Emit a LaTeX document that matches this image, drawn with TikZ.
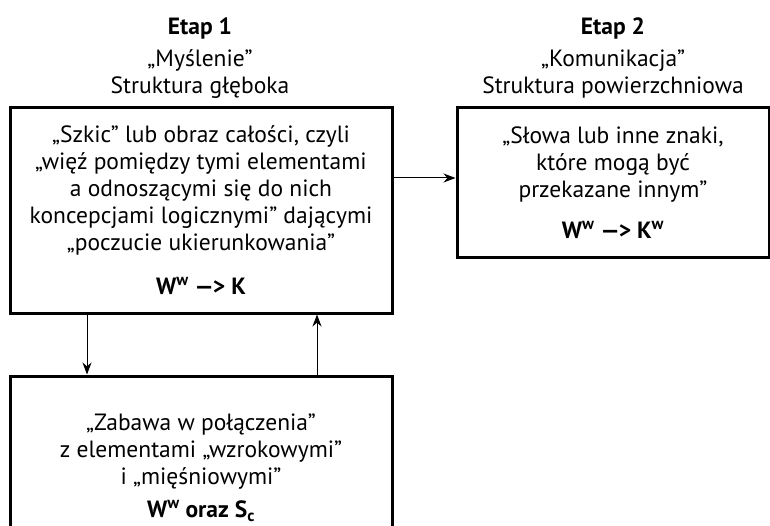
\documentclass[tikz,border=0pt]{standalone}
\usepackage{fontspec}
\setmainfont{PT Sans}
\usetikzlibrary{arrows.meta}

\begin{document}
\begin{tikzpicture}[x=1pt, y=-1pt,
	every node/.style={font=\fontsize{23.5}{27}\selectfont},
	head/.style={align=center, inner sep=0pt},
	box/.style={draw, line width=3pt, align=center, inner sep=0pt},
	link/.style={line width=1pt, -{Stealth[length=12pt, width=9pt]}}]
	\clip (0,0) rectangle (770,526);
%	headers
	\node[head] (etap1) at (200,58) {\textbf{Etap 1}\\[5pt] „Myślenie”\\ Struktura głęboka};
	\node[head] (etap2) at (613,58) {\textbf{Etap 2}\\[5pt] „Komunikacja”\\ Struktura powierzchniowa};
%	boxes
	\node[box, minimum width=382pt, minimum height=205pt] (mysl) at (201,210.5)
		{„Szkic” lub obraz całości, czyli\\ „więź pomiędzy tymi elementami\\ a odnoszącymi się do nich\\ koncepcjami logicznymi” dającymi\\ „poczucie ukierunkowania”\\[17pt] \textbf{W\textsuperscript{w} —\kern-1pt> K}};
	\node[box, minimum width=312pt, minimum height=150pt] (komun) at (613,183)
		{„Słowa lub inne znaki,\\ które mogą być\\ przekazane innym”\\[14pt] \textbf{W\textsuperscript{w} —\kern-1pt> K\textsuperscript{w}}};
	\node[box, minimum width=382pt, minimum height=184pt] (zabawa) at (201,468)
		{„Zabawa w połączenia”\\ z elementami „wzrokowymi”\\ i „mięśniowymi”\\[6pt] \textbf{W\textsuperscript{w} oraz S\textsubscript{c}}};
%	connectors
	\coordinate (in) at ([yshift=5pt]komun.west);
	\coordinate (dn) at ([xshift=-114pt]mysl.south);
	\coordinate (up) at ([xshift=116pt]zabawa.north);
	\draw[link] (mysl.east |- in) -- (in);
	\draw[link] (dn) -- (dn |- zabawa.north);
	\draw[link] (up) -- (up |- mysl.south);

\end{tikzpicture}
\end{document}
